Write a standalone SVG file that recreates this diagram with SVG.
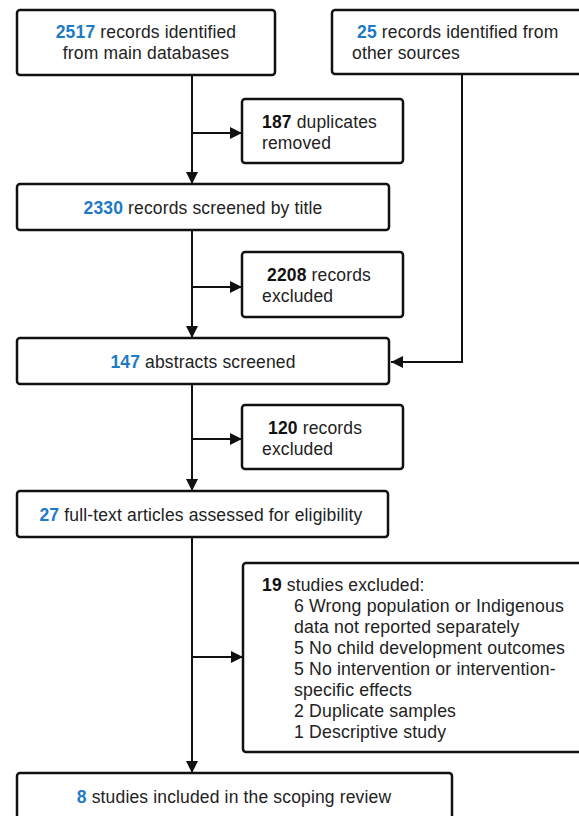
<svg xmlns="http://www.w3.org/2000/svg" width="579" height="816" viewBox="0 0 579 816">
<defs>
<style>
.box{fill:#fff;stroke:#111;stroke-width:2.5}
.ln{fill:none;stroke:#111;stroke-width:2}
text{font-family:"Liberation Sans",Arial,sans-serif;font-size:17.5px;fill:#222;letter-spacing:0.15px}
.b{font-weight:bold;fill:#1e7ac6}
.k{font-weight:bold;fill:#111}
.c{text-anchor:middle}
.i{font-size:17.7px}
</style>
<marker id="a" viewBox="0 0 12 12" refX="12" refY="6" markerWidth="12" markerHeight="12" markerUnits="userSpaceOnUse" orient="auto">
<path d="M0,0 L12,6 L0,12 Z" fill="#111"/>
</marker>
</defs>
<g id="connectors">
<path class="ln" d="M192,75 V184" marker-end="url(#a)"/>
<path class="ln" d="M192,133 H242" marker-end="url(#a)"/>
<path class="ln" d="M192,230 V338" marker-end="url(#a)"/>
<path class="ln" d="M192,287 H242" marker-end="url(#a)"/>
<path class="ln" d="M192,384 V491" marker-end="url(#a)"/>
<path class="ln" d="M192,439 H242" marker-end="url(#a)"/>
<path class="ln" d="M192,537 V773" marker-end="url(#a)"/>
<path class="ln" d="M192,657 H243" marker-end="url(#a)"/>
<path class="ln" d="M462,75 V362 H391" marker-end="url(#a)"/>
</g>
<g id="n2517">
<rect class="box" x="17" y="10" width="258" height="65" rx="3"/>
<text class="c" x="146" y="38"><tspan class="b">2517</tspan> records identified</text>
<text class="c" x="146" y="59">from main databases</text>
</g>
<g id="n25">
<rect class="box" x="332" y="10" width="252" height="64" rx="3"/>
<text x="357" y="38"><tspan class="b">25</tspan> records identified from</text>
<text x="352" y="59">other sources</text>
</g>
<g id="n187">
<rect class="box" x="242" y="99" width="161" height="64" rx="3"/>
<text x="262" y="128"><tspan class="k">187</tspan> duplicates</text>
<text x="262" y="149">removed</text>
</g>
<g id="n2330">
<rect class="box" x="17" y="184" width="372" height="46" rx="3"/>
<text class="c" x="203" y="214"><tspan class="b">2330</tspan> records screened by title</text>
</g>
<g id="n2208">
<rect class="box" x="242" y="252" width="161" height="65" rx="3"/>
<text x="267" y="281"><tspan class="k">2208</tspan> records</text>
<text x="262" y="302">excluded</text>
</g>
<g id="n147">
<rect class="box" x="17" y="338" width="372" height="46" rx="3"/>
<text class="c" x="203" y="368"><tspan class="b">147</tspan> abstracts screened</text>
</g>
<g id="n120">
<rect class="box" x="242" y="405" width="161" height="64" rx="3"/>
<text x="268" y="434"><tspan class="k">120</tspan> records</text>
<text x="262" y="455">excluded</text>
</g>
<g id="n27">
<rect class="box" x="17" y="491" width="371" height="46" rx="3"/>
<text class="c" x="201" y="521"><tspan class="b">27</tspan> full-text articles assessed for eligibility</text>
</g>
<g id="n19">
<rect class="box" x="243" y="563" width="341" height="189" rx="3"/>
<text x="262" y="591"><tspan class="k">19</tspan> studies excluded:</text>
<text class="i" x="294" y="612">6 Wrong population or Indigenous</text>
<text class="i" x="294" y="633">data not reported separately</text>
<text class="i" x="294" y="654">5 No child development outcomes</text>
<text class="i" x="294" y="675">5 No intervention or intervention-</text>
<text class="i" x="294" y="696">specific effects</text>
<text class="i" x="294" y="717">2 Duplicate samples</text>
<text class="i" x="294" y="738">1 Descriptive study</text>
</g>
<g id="n8">
<rect class="box" x="17" y="773" width="435" height="60" rx="3"/>
<text class="c" x="234" y="803"><tspan class="b">8</tspan> studies included in the scoping review</text>
</g>
</svg>
